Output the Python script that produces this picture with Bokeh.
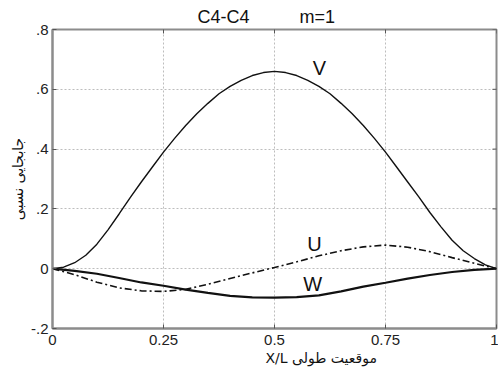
import numpy as np
from bokeh.plotting import figure
from bokeh.models import FixedTicker, Range1d, Title, Label
from bokeh.embed import file_html
from bokeh.resources import INLINE

# ---- data ----
v_x = [0.0, 0.025, 0.05, 0.075, 0.1, 0.125, 0.15, 0.175, 0.2, 0.225, 0.25,
       0.275, 0.3, 0.325, 0.35, 0.375, 0.4, 0.425, 0.45, 0.475, 0.5,
       0.525, 0.55, 0.575, 0.6, 0.625, 0.65, 0.675, 0.7, 0.725, 0.75,
       0.775, 0.8, 0.825, 0.85, 0.875, 0.9, 0.925, 0.95, 0.975, 1.0]
v_disp = [0.0, 0.005, 0.02, 0.045, 0.082, 0.13, 0.183, 0.238, 0.29, 0.34, 0.39,
          0.436, 0.479, 0.518, 0.553, 0.585, 0.61, 0.63, 0.646, 0.656, 0.66,
          0.656, 0.646, 0.63, 0.61, 0.585, 0.553, 0.518, 0.479, 0.436, 0.39,
          0.34, 0.29, 0.24, 0.188, 0.14, 0.095, 0.06, 0.034, 0.013, 0.0]

uw_x = [0.0, 0.05, 0.1, 0.15, 0.2, 0.25, 0.3, 0.35, 0.4, 0.45, 0.5,
        0.55, 0.6, 0.65, 0.7, 0.75, 0.8, 0.85, 0.9, 0.95, 1.0]
u_disp = [0.0, -0.02, -0.045, -0.064, -0.074, -0.076, -0.069, -0.052, -0.033, -0.014, 0.004,
          0.023, 0.043, 0.06, 0.073, 0.079, 0.072, 0.057, 0.037, 0.018, 0.0]
w_disp = [0.0, -0.007, -0.017, -0.031, -0.046, -0.057, -0.07, -0.081, -0.091, -0.096, -0.097,
          -0.095, -0.089, -0.076, -0.06, -0.047, -0.033, -0.021, -0.011, -0.004, 0.0]

x_ticks = [0, 0.25, 0.5, 0.75, 1]
x_tick_labels = ["0", "0.25", "0.5", "0.75", "1"]
y_ticks = [-0.2, 0, 0.2, 0.4, 0.6, 0.8]
y_tick_labels = ["-.2", "0", ".2", ".4", ".6", ".8"]

title_left = "C4-C4"
title_right = "m=1"
x_label = "X/L  موقعیت طولی"
y_label = "جابجایی نسبی"
curve_names = ["V", "U", "W"]

AX = "#8c8c8c"
TICK = "#555555"
FONT = "Liberation Sans"
INK = "#111111"

p = figure(width=498, height=372, output_backend="svg", toolbar_location=None,
           x_range=Range1d(0, 1), y_range=Range1d(-0.2, 0.8),
           min_border_left=52, min_border_right=2, min_border_top=29, min_border_bottom=44)
p.background_fill_color = "white"
p.border_fill_color = "white"
p.outline_line_color = AX
p.outline_line_width = 2

for ax in (p.xaxis[0], p.yaxis[0]):
    ax.axis_line_color = AX
    ax.axis_line_width = 2
    ax.major_tick_in = 4
    ax.major_tick_out = 0
    ax.minor_tick_in = 0
    ax.minor_tick_out = 0
    ax.major_tick_line_color = TICK
    ax.major_label_text_font = FONT
    ax.major_label_text_font_size = "15px"
    ax.major_label_text_color = "#222222"

p.xaxis.ticker = FixedTicker(ticks=x_ticks)
p.xaxis.major_label_overrides = {t: s for t, s in zip(x_ticks, x_tick_labels)}
p.xaxis.major_label_standoff = 6
p.yaxis.ticker = FixedTicker(ticks=y_ticks)
p.yaxis.major_label_overrides = {t: s for t, s in zip(y_ticks, y_tick_labels)}
p.yaxis.major_label_standoff = 4

p.xgrid.ticker = FixedTicker(ticks=x_ticks)
p.ygrid.ticker = FixedTicker(ticks=y_ticks)
for g in (p.xgrid[0], p.ygrid[0]):
    g.grid_line_color = "#bdbdbd"
    g.grid_line_dash = "2 2"
    g.grid_line_width = 1

# inward tick marks on the top and right edges (half of each dash is clipped by the frame)
p.scatter(x_ticks, [0.8] * len(x_ticks), marker="dash", size=8, angle=np.pi / 2,
          line_color=TICK, line_width=1)
p.scatter([1] * len(y_ticks), y_ticks, marker="dash", size=8,
          line_color=TICK, line_width=1)

p.line(v_x, v_disp, line_color=INK, line_width=1.4)
p.line(uw_x, u_disp, line_color=INK, line_width=1.6, line_dash="7 3 2 3")
p.line(uw_x, w_disp, line_color=INK, line_width=2.2)

# curve names
for name, (lx, ly) in zip(curve_names, [(0.601, 0.672), (0.590, 0.082), (0.586, -0.05)]):
    p.add_layout(Label(x=lx, y=ly, text=name, text_font=FONT, text_font_size="20px",
                       text_align="center", text_baseline="middle", text_color=INK))

# title, x label, y label
gap = "\u00a0" * 10
p.add_layout(Title(text=title_left + gap + title_right, align="left", offset=145,
                   text_font=FONT, text_font_size="18px", text_font_style="normal",
                   text_color=INK, standoff=5), "above")
p.add_layout(Title(text=x_label, align="left", offset=213, text_font="DejaVu Sans",
                   text_font_size="14px", text_font_style="normal", text_color=INK,
                   standoff=0), "below")
p.add_layout(Title(text=y_label, align="center", text_font="DejaVu Sans",
                   text_font_size="14px", text_font_style="normal", text_color=INK,
                   standoff=4), "left")

open("out.html", "w").write(file_html(p, INLINE))
